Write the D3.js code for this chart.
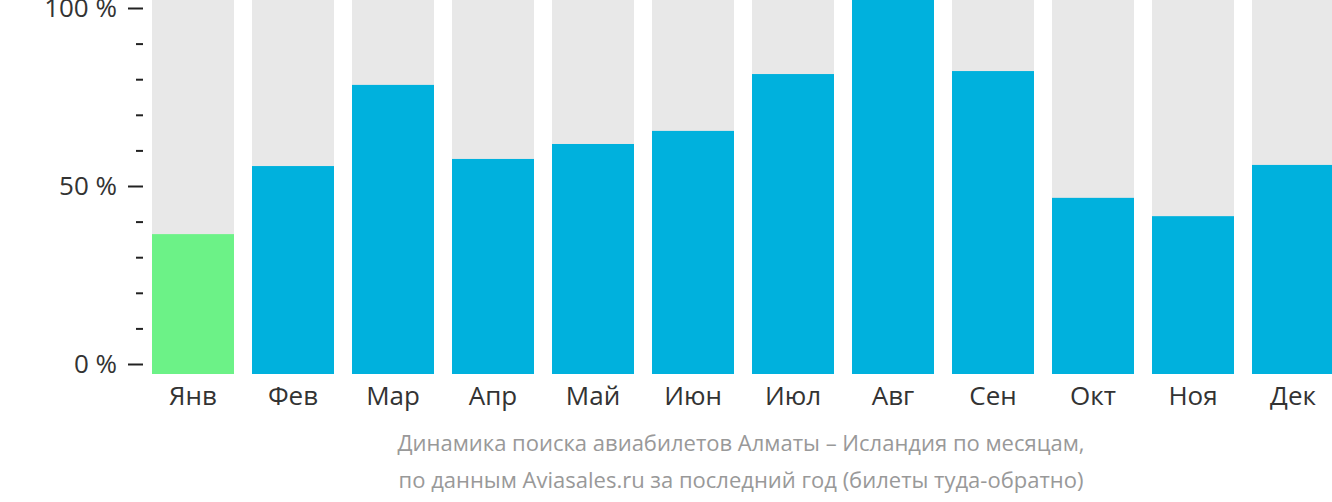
<!DOCTYPE html>
<html>
<head>
<meta charset="utf-8">
<script src="https://cdn.jsdelivr.net/npm/d3@7"></script>
<style>
html,body{margin:0;padding:0;background:#fff;}
svg{display:block;font-family:"Open Sans",sans-serif;}
</style>
</head>
<body>
<svg id="chart" width="1332" height="502"></svg>
<script>
const months = ["Янв","Фев","Мар","Апр","Май","Июн","Июл","Авг","Сен","Окт","Ноя","Дек"];
const values = [37.4, 55.6, 77.3, 57.5, 61.5, 65.0, 80.2, 100, 81.0, 47.1, 42.2, 55.9];
const highlight = ["Янв"];
const majorTicks = [0, 50, 100];
const minorTicks = [10, 20, 30, 40, 60, 70, 80, 90];
const captionLines = [
  "Динамика поиска авиабилетов Алматы – Исландия по месяцам,",
  "по данным Aviasales.ru за последний год (билеты туда-обратно)"
];

const svg = d3.select("#chart");

const x = d3.scaleBand().domain(months).range([152, 1334]).paddingInner(0.18).paddingOuter(0).align(0);
const yBar = d3.scaleLinear().domain([0, 100]).range([374, 0]);
const yAxis = d3.scaleLinear().domain([0, 100]).range([364, 8]);

// background bars
svg.append("g").selectAll("rect").data(months).join("rect")
  .attr("x", d => x(d)).attr("width", x.bandwidth())
  .attr("y", yBar(100)).attr("height", yBar(0) - yBar(100))
  .attr("fill", "#e8e8e8");

// value bars
svg.append("g").selectAll("rect").data(months).join("rect")
  .attr("x", d => x(d)).attr("width", x.bandwidth())
  .attr("y", (d, i) => yBar(values[i])).attr("height", (d, i) => yBar(0) - yBar(values[i]))
  .attr("fill", d => highlight.includes(d) ? "#6cf287" : "#00b1dd");

// y axis major
const axMajor = svg.append("g").attr("transform", "translate(143,0)")
  .call(d3.axisLeft(yAxis).tickValues(majorTicks).tickSize(15).tickPadding(11).tickFormat(d => d + " %"));
axMajor.select(".domain").remove();
axMajor.selectAll("line").attr("stroke", "#222").attr("stroke-width", 2);
axMajor.selectAll("text").attr("font-size", 26).attr("fill", "#333").attr("font-family", "Open Sans");

const axMinor = svg.append("g").attr("transform", "translate(143,0)")
  .call(d3.axisLeft(yAxis).tickValues(minorTicks).tickSize(7).tickFormat(""));
axMinor.select(".domain").remove();
axMinor.selectAll("line").attr("stroke", "#222").attr("stroke-width", 2);

// x axis labels
const axX = svg.append("g").attr("transform", "translate(0,374)")
  .call(d3.axisBottom(x).tickSize(0).tickPadding(13));
axX.select(".domain").remove();
axX.selectAll("text").attr("font-size", 26).attr("fill", "#333").attr("font-family", "Open Sans");

// caption
svg.append("g").selectAll("text").data(captionLines).join("text")
  .attr("x", 741).attr("y", (d, i) => 451 + i * 37)
  .attr("text-anchor", "middle").attr("font-size", 22).attr("fill", "#999")
  .text(d => d);
</script>
</body>
</html>
